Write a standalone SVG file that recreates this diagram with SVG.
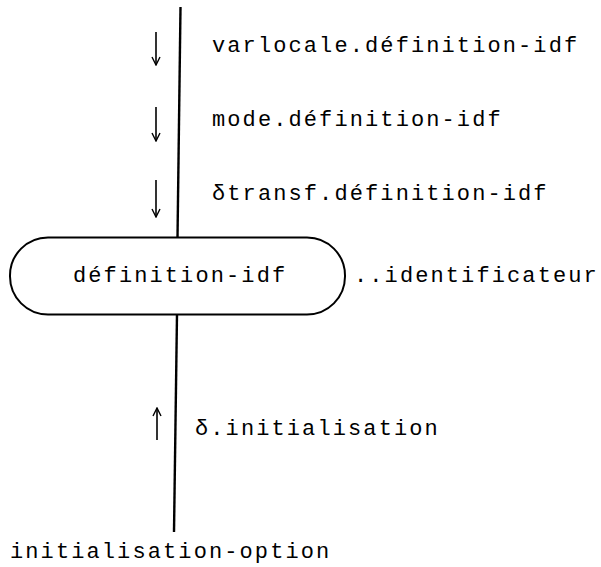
<svg xmlns="http://www.w3.org/2000/svg" width="601" height="567" viewBox="0 0 601 567">
<defs>
<marker id="v" viewBox="0 0 10 10" refX="9" refY="5" markerWidth="10" markerHeight="10" markerUnits="userSpaceOnUse" orient="auto">
<path d="M1,1 L9,5 L1,9" fill="none" stroke="#000" stroke-width="1.4"/>
</marker>
<style>
.t{font-family:"Liberation Mono","Courier New",monospace;font-size:22px;letter-spacing:2.1px;fill:#000}
.ln{stroke:#000;stroke-width:2.4;fill:none}
.ar{stroke:#000;stroke-width:1.6;fill:none;marker-end:url(#v)}
</style>
</defs>
<rect width="601" height="567" fill="#fff"/>
<g id="connectors">
<line class="ln" x1="180.5" y1="7" x2="177.5" y2="237.5"/>
<line class="ln" x1="177" y1="314" x2="174" y2="532"/>
<line class="ar" x1="156" y1="32" x2="156" y2="65"/>
<line class="ar" x1="156" y1="107" x2="156" y2="141"/>
<line class="ar" x1="156" y1="180" x2="156" y2="217"/>
<line class="ar" x1="157" y1="440" x2="157" y2="408"/>
</g>
<g id="labels">
<text class="t" x="212" y="52">varlocale.définition-idf</text>
<text class="t" x="212" y="126">mode.définition-idf</text>
<text class="t" x="212" y="200">δtransf.définition-idf</text>
<text class="t" x="195" y="435">δ.initialisation</text>
</g>
<g id="node-definition-idf">
<rect x="10" y="237.5" width="335" height="77" rx="38" ry="38" fill="none" stroke="#000" stroke-width="2"/>
<text class="t" x="73" y="282">définition-idf</text>
<text class="t" x="354" y="282">..identificateur</text>
</g>
<g id="node-initialisation-option">
<text class="t" x="10" y="558">initialisation-option</text>
</g>
</svg>
